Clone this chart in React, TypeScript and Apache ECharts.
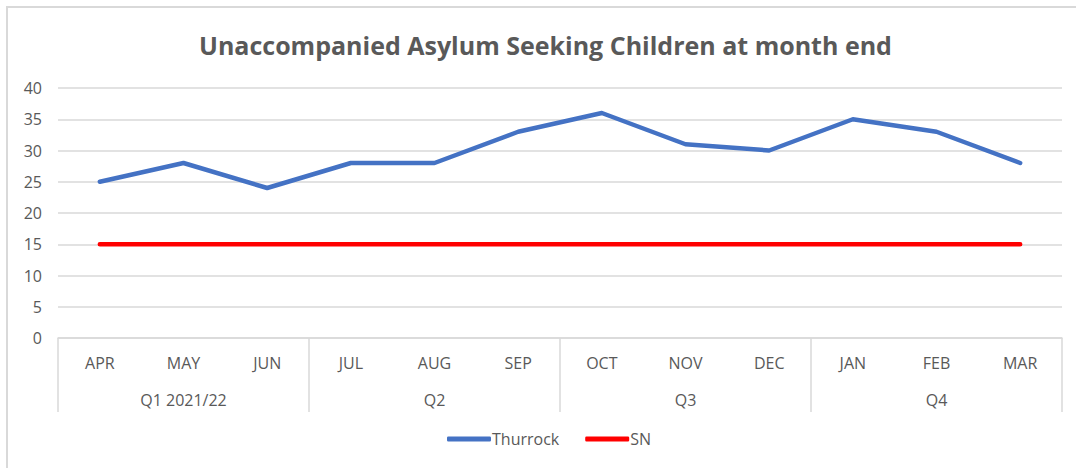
import React, { useEffect, useRef } from "react";
import * as echarts from "echarts";

const months = ["APR", "MAY", "JUN", "JUL", "AUG", "SEP", "OCT", "NOV", "DEC", "JAN", "FEB", "MAR"];
const quarters = ["Q1 2021/22", "Q2", "Q3", "Q4"];
const thurrock = [25, 28, 24, 28, 28, 33, 36, 31, 30, 35, 33, 28];
const sn = [15, 15, 15, 15, 15, 15, 15, 15, 15, 15, 15, 15];

const FONT = "'Open Sans', 'Noto Sans', sans-serif";
const GREY = "#595959";

export default function App() {
  const ref = useRef<HTMLDivElement>(null);
  useEffect(() => {
    if (!ref.current) return;
    const chart = echarts.init(ref.current, null, { renderer: "svg" });
    chart.setOption({
      animation: false,
      backgroundColor: "#ffffff",
      textStyle: { fontFamily: FONT },
      title: {
        text: "Unaccompanied Asylum Seeking Children at month end",
        left: 194,
        top: 27,
        textStyle: { fontFamily: FONT, fontSize: 25, fontWeight: "bold", color: GREY },
      },
      graphic: [
        {
          type: "rect",
          shape: { x: 7, y: 7, width: 1100, height: 500 },
          style: { fill: "none", stroke: "#d9d9d9", lineWidth: 2 },
          silent: true,
          z: -1,
        },
      ],
      legend: {
        bottom: 16,
        left: 442,
        itemWidth: 44,
        itemHeight: 5,
        itemGap: 26,
        icon: "roundRect",
        textStyle: { fontFamily: FONT, fontSize: 16, color: GREY, padding: [0, 0, 0, -4] },
        data: ["Thurrock", "SN"],
      },
      grid: { left: 58, right: 14, top: 88, bottom: 130 },
      xAxis: [
        {
          type: "category",
          data: months,
          position: "bottom",
          boundaryGap: true,
          axisLine: { show: true, lineStyle: { color: "#d9d9d9", width: 1.5 } },
          axisTick: { show: false },
          axisLabel: { fontFamily: FONT, fontSize: 16, color: GREY, margin: 17 },
          splitLine: { show: false },
        },
        {
          type: "category",
          data: quarters,
          position: "bottom",
          boundaryGap: true,
          axisLine: { show: false },
          axisTick: { show: true, inside: false, length: 74, lineStyle: { color: "#d9d9d9", width: 1.5 } },
          axisLabel: { fontFamily: FONT, fontSize: 16, color: GREY, margin: 54 },
          splitLine: { show: false },
        },
      ],
      yAxis: {
        type: "value",
        min: 0,
        max: 40,
        interval: 5,
        axisLine: { show: false },
        axisTick: { show: false },
        axisLabel: { fontFamily: FONT, fontSize: 16, color: GREY, margin: 16 },
        splitLine: { lineStyle: { color: "#d9d9d9", width: 1.5 } },
      },
      series: [
        {
          name: "Thurrock",
          type: "line",
          xAxisIndex: 0,
          data: thurrock,
          symbol: "none",
          lineStyle: { color: "#4472c4", width: 4.5, cap: "round", join: "round" },
          itemStyle: { color: "#4472c4" },
        },
        {
          name: "SN",
          type: "line",
          xAxisIndex: 0,
          data: sn,
          symbol: "none",
          lineStyle: { color: "#ff0000", width: 4.5, cap: "round" },
          itemStyle: { color: "#ff0000" },
        },
      ],
    });
    return () => chart.dispose();
  }, []);
  return (
    <div
      ref={ref}
      style={{ position: "fixed", left: 0, top: 0, width: 1076, height: 468 }}
    />
  );
}
